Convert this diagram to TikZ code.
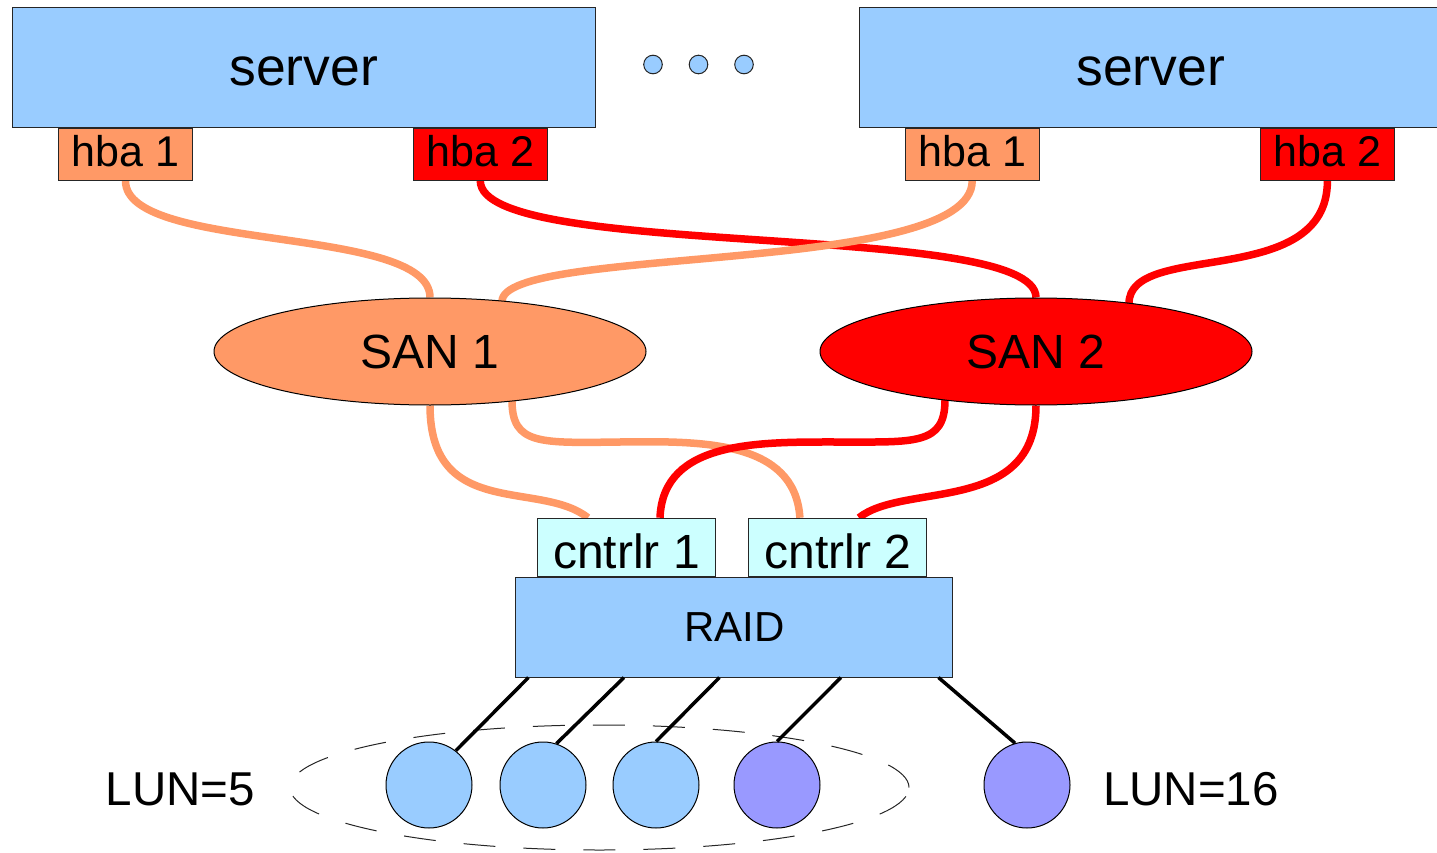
\documentclass[tikz,border=0pt]{standalone}
\usepackage{fontspec}
\setmainfont{Liberation Sans}
\usetikzlibrary{calc,shapes.geometric}
\definecolor{lblue}{HTML}{99CCFF}
\definecolor{lorange}{HTML}{FF9966}
\definecolor{lred}{HTML}{FF0000}
\definecolor{lcyan}{HTML}{CCFFFF}
\definecolor{lpurple}{HTML}{9999FF}
\pgfdeclarelayer{bg}
\pgfsetlayers{bg,main}
\begin{document}
\begin{tikzpicture}[x=1pt,y=-1pt,
  box/.style={draw=black!85, line width=1pt, inner sep=0pt, rectangle},
  server/.style={box, fill=lblue, minimum width=582.4pt, minimum height=120.7pt,
    font=\fontsize{53.5}{60}\selectfont, text height=35.7pt, text depth=0pt},
  hba/.style={box, minimum width=134pt, minimum height=52.3pt,
    font=\fontsize{43}{48}\selectfont, text height=24pt, text depth=0pt},
  san/.style={ellipse, draw=black, line width=1pt, inner sep=0pt,
    minimum width=432pt, minimum height=107pt,
    font=\fontsize{48}{54}\selectfont, text height=33pt, text depth=0pt},
  ctl/.style={box, fill=lcyan, minimum width=178pt, minimum height=58.7pt,
    font=\fontsize{48}{54}\selectfont, text height=41.4pt, text depth=0pt},
  raidbox/.style={box, fill=lblue, minimum width=437.5pt, minimum height=100pt,
    font=\fontsize{42}{48}\selectfont, text height=29.4pt, text depth=0pt},
  lun/.style={circle, draw=black, line width=1pt, minimum size=86pt, inner sep=0pt},
  dotc/.style={circle, draw=black!85, fill=lblue, line width=1pt, minimum size=18.6pt, inner sep=0pt},
  group/.style={ellipse, draw=black!85, line width=1pt, dash pattern=on 32pt off 28pt,
    minimum width=619pt, minimum height=125pt, inner sep=0pt},
  ocable/.style={draw=lorange, line width=7.5pt},
  rcable/.style={draw=lred, line width=7.5pt},
  link/.style={draw=black, line width=3.5pt},
  lunlabel/.style={anchor=base, inner sep=0pt, font=\fontsize{47.5}{54}\selectfont}
]
\useasboundingbox (0,0) rectangle (1437,853);

% servers and hbas
\node[server] (srvL) at (303.8,67.65) {server};
\node[server] (srvR) at (1150.7,67.65) {server};
\node[hba, fill=lorange] (hba1L) at (125.5,154.2) {hba 1};
\node[hba, fill=lred]    (hba2L) at (480.3,154.2) {hba 2};
\node[hba, fill=lorange] (hba1R) at (972.2,154.2) {hba 1};
\node[hba, fill=lred]    (hba2R) at (1327.4,154.2) {hba 2};

% dots
\node[dotc] (d1) at (653,64.5) {};
\node[dotc] (d2) at (698.5,64.5) {};
\node[dotc] (d3) at (744,64.5) {};

% SANs
\node[san, fill=lorange] (SAN1) at (430,351.5) {SAN 1};
\node[san, fill=lred]    (SAN2) at (1036,351.5) {SAN 2};

% controllers and RAID
\node[ctl] (ctl1) at (626.5,547.6) {cntrlr 1};
\node[ctl] (ctl2) at (837.9,547.6) {cntrlr 2};
\node[raidbox] (raid) at (734.2,627) {RAID};

% LUN group and disks
\node[group] (lungroup) at (599.5,787.5) {};
\node[lun, fill=lblue]   (l1) at (429,785) {};
\node[lun, fill=lblue]   (l2) at (543,785) {};
\node[lun, fill=lblue]   (l3) at (656,785) {};
\node[lun, fill=lpurple] (l4) at (777,785) {};
\node[lun, fill=lpurple] (l5) at (1027,785) {};

\node[lunlabel] (lab5) at (180.5,805) {LUN=5};
\node[lunlabel] (lab16) at (1191,805) {LUN=16};

% links RAID -> disks
\draw[link] ($(raid.south west)+(13.5,0)$) -- (l1.52);
\draw[link] ($(raid.south west)+(109,0)$) -- (l2.72);
\draw[link] ($(raid.south west)+(204.5,0)$) -- (l3.90);
\draw[link] ($(raid.south west)+(326,0)$) -- (l4.90);
\draw[link] ($(raid.south west)+(423.5,0)$) -- (l5.106);

% cables
\begin{pgfonlayer}{bg}
\draw[ocable] (hba1L.south) .. controls +(0,72) and +(0,-73) .. (SAN1.north);
\draw[rcable] (hba2L.south) .. controls +(0,80) and +(0,-78) .. (SAN2.north);
\draw[ocable] (hba1R.south) .. controls +(0,95) and +(0,-56.5) .. ($(SAN1.center)+(72,-50)$);
\draw[rcable] (hba2R.south) .. controls +(0,110) and +(0,-63.5) .. ($(SAN2.center)+(93,-48)$);
\draw[ocable] (SAN1.south) .. controls +(0,115) and +(-48,-38) .. ($(ctl1.north)+(-38.5,0)$);
\draw[rcable] (SAN2.south) .. controls +(0,110) and +(45,-36) .. ($(ctl2.north)+(21,0)$);
\draw[ocable] ($(SAN1.center)+(82,49)$) .. controls +(0,44.5) and +(-80,1) .. (620,442)
  .. controls +(80,-1) and +(-5,-78) .. ($(ctl2.north)+(-38,0)$);
\draw[rcable] ($(SAN2.center)+(-91,48.5)$) .. controls +(0,45) and +(75,0) .. (840,442)
  .. controls +(-80,0) and +(3,-78) .. ($(ctl1.north)+(33.5,0)$);
\end{pgfonlayer}
\end{tikzpicture}
\end{document}
